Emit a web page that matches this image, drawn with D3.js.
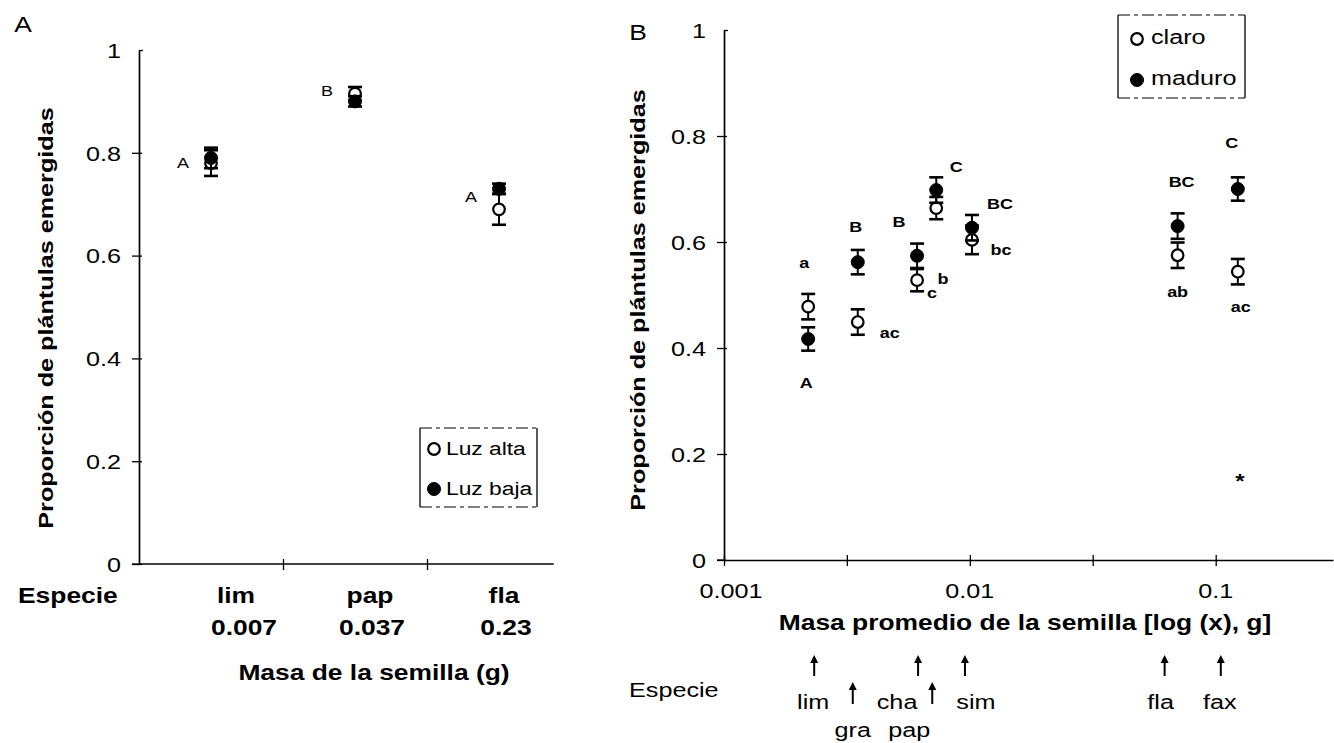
<!DOCTYPE html>
<html>
<head>
<meta charset="utf-8">
<script src="https://cdn.jsdelivr.net/npm/d3@7"></script>
<style>
  body { margin: 0; background: #fff; }
  svg { display: block; }
  text { font-family: "Liberation Sans", Arial, Helvetica, sans-serif; fill: #000; }
</style>
</head>
<body>
<svg id="chart" width="1334" height="743"></svg>
<script>
// ---------- Panel A: seedling emergence under two light levels ----------
const speciesA   = ["lim", "pap", "fla"];
const seedMassA  = ["0.007", "0.037", "0.23"];
const luzAlta    = [0.78, 0.915, 0.69];
const luzAltaErr = [0.025, 0.013, 0.03];
const luzBaja    = [0.79, 0.90, 0.73];
const luzBajaErr = [0.02, 0.01, 0.01];
const groupsA    = ["A", "B", "A"];
const groupsAVal = [0.78, 0.92, 0.715];
const yTickVals  = [0, 0.2, 0.4, 0.6, 0.8, 1];

// ---------- Panel B: emergence in clear vs mature forest, by seed mass ----------
const speciesB   = ["lim", "gra", "cha", "pap", "sim", "fla", "fax"];
const seedMassB  = [0.0022, 0.0035, 0.0061, 0.0073, 0.0102, 0.070, 0.123];
const claro      = [0.478, 0.449, 0.528, 0.664, 0.604, 0.575, 0.544];
const claroErr   = [0.024, 0.024, 0.021, 0.021, 0.027, 0.024, 0.024];
const maduro     = [0.417, 0.562, 0.574, 0.698, 0.627, 0.630, 0.700];
const maduroErr  = [0.022, 0.023, 0.023, 0.024, 0.024, 0.024, 0.022];
const lettersB        = ["a", "A", "B", "ac", "B", "c", "b", "C", "BC", "bc", "BC", "ab", "C", "ac", "*"];
const lettersBSpecies = ["lim", "lim", "gra", "gra", "cha", "cha", "cha", "pap", "sim", "sim", "fla", "fla", "fax", "fax", "fax"];
const lettersBVal     = [0.56, 0.334, 0.628, 0.428, 0.638, 0.504, 0.53, 0.742, 0.673, 0.585, 0.713, 0.506, 0.787, 0.478, 0.149];
const xTickLabelsB    = [0.001, 0.01, 0.1];
const xTickMarksB     = [0.001, 0.00316, 0.01, 0.0316, 0.1];

// ---------- layout ----------
const svg = d3.select("#chart");
const SX = 1.2;   // horizontal stretch of the lettering

function label(sel, str, x, y, o = {}) {
  const size = o.size || 21, weight = o.weight || "normal",
        anchor = o.anchor || "middle", rot = o.rotate || 0;
  return sel.append("text")
    .attr("transform", `translate(${x},${y}) rotate(${rot}) scale(${SX},1)`)
    .attr("text-anchor", anchor)
    .attr("dy", "0.35em")
    .style("font-size", size + "px")
    .style("font-weight", weight)
    .text(str);
}

function styleYAxis(g) {
  g.select(".domain").attr("stroke", "#000").attr("stroke-width", 1.7);
  g.selectAll(".tick line").attr("stroke", "#000").attr("stroke-width", 1.3)
    .attr("x1", d => d === 1 ? 4 : 3).attr("x2", d => d === 1 ? 0 : -7);
  g.selectAll(".tick text")
    .attr("x", null).attr("dy", "0.35em")
    .attr("transform", `translate(-18,0) scale(${SX},1)`)
    .attr("fill", "#000")
    .style("font-size", "21px")
    .style("font-family", '"Liberation Sans", Arial, sans-serif');
}

function errorBar(g, x, y, v, e, capW) {
  g.append("line").attr("x1", x).attr("x2", x).attr("y1", y(v - e)).attr("y2", y(v + e))
    .attr("stroke", "#000").attr("stroke-width", 2);
  [v - e, v + e].forEach(t => g.append("line")
    .attr("x1", x - capW / 2).attr("x2", x + capW / 2).attr("y1", y(t)).attr("y2", y(t))
    .attr("stroke", "#000").attr("stroke-width", 2.6));
}

function marker(g, x, y, filled) {
  g.append("circle").attr("cx", x).attr("cy", y).attr("r", filled ? 6.5 : 5.8)
    .attr("fill", filled ? "#000" : "#fff").attr("stroke", "#000").attr("stroke-width", filled ? 1 : 2.2);
}

function legendBox(g, x0, y0, x1, y1) {
  g.append("line").attr("x1", x0).attr("x2", x0).attr("y1", y0).attr("y2", y1).attr("stroke", "#000").attr("stroke-width", 1.3);
  g.append("line").attr("x1", x1).attr("x2", x1).attr("y1", y0).attr("y2", y1).attr("stroke", "#000").attr("stroke-width", 1.3);
  [y0, y1].forEach(yy => g.append("line").attr("x1", x0).attr("x2", x1).attr("y1", yy).attr("y2", yy)
    .attr("stroke", "#000").attr("stroke-width", 1.2).attr("stroke-dasharray", "12,4,4,4"));
}

// ================= Panel A =================
const gA = svg.append("g");
const xA = d3.scaleBand().domain(speciesA).range([139, 571]).paddingInner(0).paddingOuter(0);
const xAEdge = d3.scaleLinear().domain([0, speciesA.length]).range([139, 571]);
const yA = d3.scaleLinear().domain([0, 1]).range([564, 50]);
const cxA = s => xA(s) + xA.bandwidth() / 2;

gA.append("g").attr("transform", "translate(139,0)")
  .call(d3.axisLeft(yA).tickValues(yTickVals).tickFormat(d3.format("")).tickSizeOuter(0))
  .call(styleYAxis);

// category boundary ticks along the baseline
const xAxisA = gA.append("g").attr("transform", `translate(0,${yA(0)})`)
  .call(d3.axisBottom(xAEdge).tickValues([1, 2]).tickFormat("").tickSizeOuter(0));
xAxisA.select(".domain").remove();
xAxisA.selectAll(".tick line").attr("stroke", "#000").attr("stroke-width", 1.3).attr("y1", -5).attr("y2", 6);
gA.append("line").attr("x1", xAEdge(0)).attr("x2", xAEdge(2.88)).attr("y1", yA(0)).attr("y2", yA(0))
  .attr("stroke", "#000").attr("stroke-width", 1.7);
gA.append("line").attr("x1", xAEdge(0) - 7).attr("x2", xAEdge(0)).attr("y1", yA(0)).attr("y2", yA(0))
  .attr("stroke", "#000").attr("stroke-width", 1.3);

speciesA.forEach((s, i) => {
  const x = cxA(s);
  errorBar(gA, x, yA, luzAlta[i], luzAltaErr[i], 14);
  marker(gA, x, yA(luzAlta[i]), false);
  errorBar(gA, x, yA, luzBaja[i], luzBajaErr[i], 14);
  marker(gA, x, yA(luzBaja[i]), true);
  label(gA, groupsA[i], x - 28, yA(groupsAVal[i]), { size: 15 });
});

// legend A
legendBox(gA, 420, 428, 537, 507);
marker(gA, 434, 449, false);
label(gA, "Luz alta", 446, 448, { size: 19, anchor: "start" });
marker(gA, 434, 489, true);
label(gA, "Luz baja", 446, 488, { size: 19, anchor: "start" });

// species / seed mass rows
const labelRowA = d3.scalePoint().domain(speciesA).range([236, 504]);
label(gA, "Especie", 18, 595, { size: 22, weight: "bold", anchor: "start" });
speciesA.forEach((s, i) => {
  label(gA, s, labelRowA(s), 595, { size: 22, weight: "bold" });
  label(gA, seedMassA[i], labelRowA(s) + (i === 0 ? 8 : 2), 627, { size: 22, weight: "bold" });
});
label(gA, "Masa de la semilla (g)", 374, 672, { size: 22, weight: "bold" });
label(gA, "Proporción de plántulas emergidas", 46, 318, { size: 21, weight: "bold", rotate: -90 });
label(gA, "A", 23, 24, { size: 22 });

// ================= Panel B =================
const gB = svg.append("g");
const xB = d3.scaleLog().domain([0.001, 0.3]).range([724, 1333]);
const yB = d3.scaleLinear().domain([0, 1]).range([560, 30]);
const massOf = s => seedMassB[speciesB.indexOf(s)];

gB.append("g").attr("transform", "translate(724,0)")
  .call(d3.axisLeft(yB).tickValues(yTickVals).tickFormat(d3.format("")).tickSizeOuter(0))
  .call(styleYAxis);

const xAxisB = gB.append("g").attr("transform", `translate(0,${yB(0)})`)
  .call(d3.axisBottom(xB).tickValues(xTickMarksB).tickFormat("").tickSizeOuter(0));
xAxisB.select(".domain").attr("stroke", "#000").attr("stroke-width", 1.7);
xAxisB.selectAll(".tick line").attr("stroke", "#000").attr("stroke-width", 1.3).attr("y1", -5).attr("y2", 6);
gB.append("line").attr("x1", 717).attr("x2", 724).attr("y1", yB(0)).attr("y2", yB(0))
  .attr("stroke", "#000").attr("stroke-width", 1.3);
xTickLabelsB.forEach((v, i) => label(gB, String(v), xB(v) + (i === 0 ? 7 : 0), 591, { size: 21 }));

speciesB.forEach((s, i) => {
  const x = xB(seedMassB[i]);
  errorBar(gB, x, yB, claro[i], claroErr[i], 14);
  marker(gB, x, yB(claro[i]), false);
  errorBar(gB, x, yB, maduro[i], maduroErr[i], 14);
  marker(gB, x, yB(maduro[i]), true);
});

// group letters next to the points
const lettersBDx = [-4, -2, -2, 32, -18, 15, 26, 20, 28, 29, 4, 0, -6, 3, 2];
lettersB.forEach((t, i) => {
  const x = xB(massOf(lettersBSpecies[i])) + lettersBDx[i];
  label(gB, t, x, yB(lettersBVal[i]), { size: t === "*" ? 20 : 15, weight: "bold" });
});

// legend B
legendBox(gB, 1118, 15, 1245, 98);
marker(gB, 1137, 39, false);
label(gB, "claro", 1151, 37, { size: 21, anchor: "start" });
marker(gB, 1137, 80, true);
label(gB, "maduro", 1151, 78, { size: 21, anchor: "start" });

label(gB, "Masa promedio de la semilla [log (x), g]", 1025, 622, { size: 22, weight: "bold" });
label(gB, "Proporción de plántulas emergidas", 638, 300, { size: 21, weight: "bold", rotate: -90 });
label(gB, "B", 638, 32, { size: 22 });

// species arrows beneath the mass axis
const lowerRow  = ["gra", "pap"];
const arrowDx   = [6, -5, 1, -4, -7, -13, -17];
const nameDx    = [5, -5, -20, -27, 4, -17, -18];
label(gB, "Especie", 629, 690, { size: 21, anchor: "start" });
speciesB.forEach((s, i) => {
  const low = lowerRow.includes(s);
  const ax = xB(seedMassB[i]) + arrowDx[i];
  const top = low ? 682 : 655, bot = low ? 704 : 676;
  gB.append("line").attr("x1", ax).attr("x2", ax).attr("y1", top + 6).attr("y2", bot)
    .attr("stroke", "#000").attr("stroke-width", 2);
  gB.append("path").attr("d", `M${ax - 4},${top + 8} L${ax},${top} L${ax + 4},${top + 8} Z`).attr("fill", "#000");
  label(gB, s, xB(seedMassB[i]) + nameDx[i], low ? 730 : 702, { size: 21 });
});
</script>
</body>
</html>
